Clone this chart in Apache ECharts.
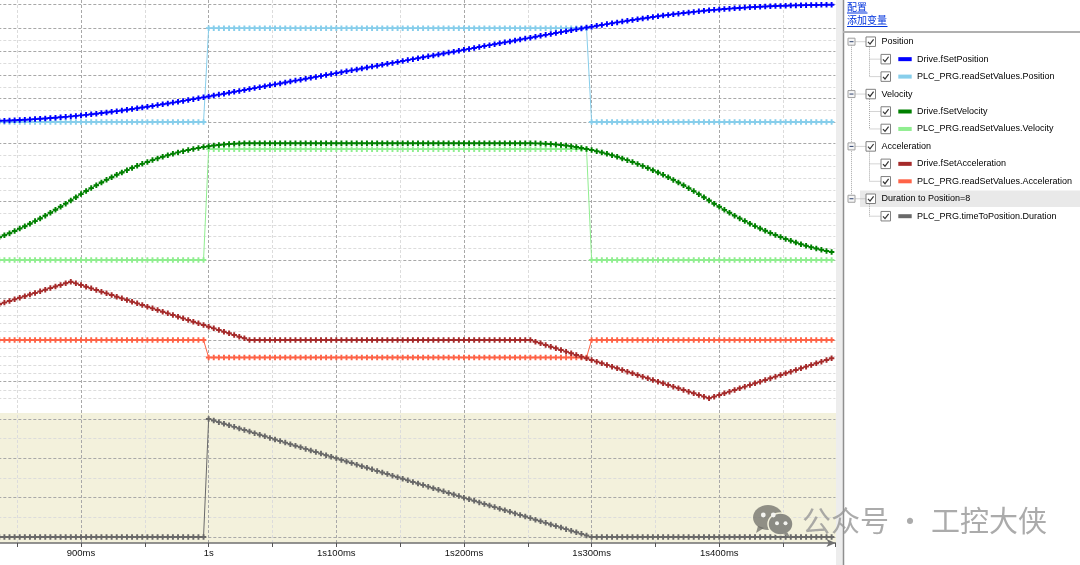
<!DOCTYPE html>
<html><head><meta charset="utf-8">
<script src="https://cdn.jsdelivr.net/npm/echarts@6/dist/echarts.min.js"></script>
<style>html,body{margin:0;padding:0;background:#fff;}#chart{width:1080px;height:565px;}</style>
</head><body><div id="chart"></div>
<script>
// ---------------- DATA ----------------
const sampleTimesMs = [
836,840,844,848,852,856,860,864,868,872,876,880,884,888,892,896,900,904,908,912,
916,920,924,928,932,936,940,944,948,952,956,960,964,968,972,976,980,984,988,992,
996,1000,1004,1008,1012,1016,1020,1024,1028,1032,1036,1040,1044,1048,1052,1056,1060,1064,1068,1072,
1076,1080,1084,1088,1092,1096,1100,1104,1108,1112,1116,1120,1124,1128,1132,1136,1140,1144,1148,1152,
1156,1160,1164,1168,1172,1176,1180,1184,1188,1192,1196,1200,1204,1208,1212,1216,1220,1224,1228,1232,
1236,1240,1244,1248,1252,1256,1260,1264,1268,1272,1276,1280,1284,1288,1292,1296,1300,1304,1308,1312,
1316,1320,1324,1328,1332,1336,1340,1344,1348,1352,1356,1360,1364,1368,1372,1376,1380,1384,1388,1392,
1396,1400,1404,1408,1412,1416,1420,1424,1428,1432,1436,1440,1444,1448,1452,1456,1460,1464,1468,1472,
1476,1480,1484,1488];

const driveSetPosition = [
0.50,0.58,0.67,0.76,0.87,0.98,1.10,1.23,1.36,1.51,1.67,1.83,2.01,2.20,2.39,
2.60,2.82,3.05,3.29,3.54,3.80,4.07,4.35,4.63,4.93,5.23,5.54,5.86,6.18,6.51,
6.85,7.20,7.55,7.90,8.26,8.62,8.99,9.37,9.74,10.12,10.51,10.89,11.28,11.68,12.07,
12.46,12.86,13.26,13.65,14.05,
14.45,14.85,15.25,15.65,16.04,16.44,16.84,17.24,17.64,18.03,
18.43,18.83,19.23,19.63,20.02,20.42,20.82,21.22,21.62,22.01,
22.41,22.81,23.21,23.61,24.00,24.40,24.80,25.20,25.60,25.99,
26.39,26.79,27.19,27.59,27.98,28.38,28.78,29.18,29.58,29.97,
30.37,30.77,31.17,31.57,31.96,32.36,32.76,33.16,33.56,33.95,
34.35,34.75,35.15,35.55,35.94,
36.34,36.74,37.14,37.53,37.93,38.32,38.71,39.10,39.49,39.87,
40.25,40.63,41.00,41.37,41.73,42.09,42.45,42.80,43.14,43.48,
43.81,44.13,44.45,44.76,45.06,45.36,45.64,45.92,46.19,46.45,
46.70,46.94,47.17,47.39,47.60,
47.80,47.98,48.16,48.32,48.48,48.63,48.76,48.89,49.01,49.12,
49.23,49.32,49.41,49.49,49.57,49.64,49.70,49.76,49.81,49.85,
49.90,49.93,49.97,49.99];

const plcPosition = [
0,0,0,0,0,0,0,0,0,0, 0,0,0,0,0,0,0,0,0,0, 0,0,0,0,0,0,0,0,0,0, 0,0,0,0,0,0,0,0,0,0, 0,
40,40,40,40,40,40,40,40,40,40, 40,40,40,40,40,40,40,40,40,40, 40,40,40,40,40,40,40,40,40,40,
40,40,40,40,40,40,40,40,40,40, 40,40,40,40,40,40,40,40,40,40, 40,40,40,40,40,40,40,40,40,40,
40,40,40,40,40,40,40,40,40,40, 40,40,40,40,40,
0,0,0,0,0,0,0,0,0,0, 0,0,0,0,0,0,0,0,0,0, 0,0,0,0,0,0,0,0,0,0, 0,0,0,0,0,0,0,0,0,0, 0,0,0,0,0,0,0,0];

const driveSetVelocity = [
19.40,21.16,22.99,24.91,26.90,28.96,31.11,33.33,35.63,38.00,40.46,42.99,45.59,48.28,51.04,
53.80,56.48,59.08,61.60,64.04,66.40,68.68,70.88,73.00,75.04,
77.00,78.88,80.68,82.40,84.04,85.60,87.08,88.48,89.80,91.04,
92.20,93.28,94.28,95.20,96.04,96.80,97.48,98.08,98.60,99.04,
99.40,99.68,99.88,100,100,
100,100,100,100,100,100,100,100,100,100, 100,100,100,100,100,100,100,100,100,100,
100,100,100,100,100,100,100,100,100,100, 100,100,100,100,100,100,100,100,100,100,
100,100,100,100,100,100,100,100,100,100, 100,100,100,100,100,
99.96,99.84,99.64,99.36,99.00,98.56,98.04,97.44,96.76,96.00,
95.16,94.24,93.24,92.16,91.00,89.76,88.44,87.04,85.56,84.00,
82.36,80.64,78.84,76.96,75.00,72.96,70.84,68.64,66.36,64.00,
61.56,59.04,56.44,53.76,51.00,
48.24,45.56,42.96,40.44,38.00,35.64,33.36,31.16,29.04,27.00,
25.04,23.16,21.36,19.64,18.00,16.44,14.96,13.56,12.24,11.00,
9.84,8.76,7.76,6.84];

const plcVelocity = [
0,0,0,0,0,0,0,0,0,0, 0,0,0,0,0,0,0,0,0,0, 0,0,0,0,0,0,0,0,0,0, 0,0,0,0,0,0,0,0,0,0, 0,
95,95,95,95,95,95,95,95,95,95, 95,95,95,95,95,95,95,95,95,95, 95,95,95,95,95,95,95,95,95,95,
95,95,95,95,95,95,95,95,95,95, 95,95,95,95,95,95,95,95,95,95, 95,95,95,95,95,95,95,95,95,95,
95,95,95,95,95,95,95,95,95,95, 95,95,95,95,95,
0,0,0,0,0,0,0,0,0,0, 0,0,0,0,0,0,0,0,0,0, 0,0,0,0,0,0,0,0,0,0, 0,0,0,0,0,0,0,0,0,0, 0,0,0,0,0,0,0,0];

const driveSetAcceleration = [
4.30,4.49,4.69,4.88,5.07,5.26,5.46,5.65,5.84,6.04,6.23,6.42,6.61,6.81,7.00,
6.8,6.6,6.4,6.2,6.0,5.8,5.6,5.4,5.2,5.0,4.8,4.6,4.4,4.2,4.0,3.8,3.6,3.4,3.2,3.0,
2.8,2.6,2.4,2.2,2.0,1.8,1.6,1.4,1.2,1.0,0.8,0.6,0.4,0.2,0,
0,0,0,0,0,0,0,0,0,0, 0,0,0,0,0,0,0,0,0,0, 0,0,0,0,0,0,0,0,0,0,
0,0,0,0,0,0,0,0,0,0, 0,0,0,0,0,0,0,0,0,0, 0,0,0,0,0,
-0.2,-0.4,-0.6,-0.8,-1.0,-1.2,-1.4,-1.6,-1.8,-2.0,
-2.2,-2.4,-2.6,-2.8,-3.0,-3.2,-3.4,-3.6,-3.8,-4.0,
-4.2,-4.4,-4.6,-4.8,-5.0,-5.2,-5.4,-5.6,-5.8,-6.0,
-6.2,-6.4,-6.6,-6.8,-7.0,
-6.8,-6.6,-6.4,-6.2,-6.0,-5.8,-5.6,-5.4,-5.2,-5.0,
-4.8,-4.6,-4.4,-4.2,-4.0,-3.8,-3.6,-3.4,-3.2,-3.0,
-2.8,-2.6,-2.4,-2.2];

const plcAcceleration = [
0,0,0,0,0,0,0,0,0,0, 0,0,0,0,0,0,0,0,0,0, 0,0,0,0,0,0,0,0,0,0, 0,0,0,0,0,0,0,0,0,0, 0,
-2.1,-2.1,-2.1,-2.1,-2.1,-2.1,-2.1,-2.1,-2.1,-2.1, -2.1,-2.1,-2.1,-2.1,-2.1,-2.1,-2.1,-2.1,-2.1,-2.1,
-2.1,-2.1,-2.1,-2.1,-2.1,-2.1,-2.1,-2.1,-2.1,-2.1, -2.1,-2.1,-2.1,-2.1,-2.1,-2.1,-2.1,-2.1,-2.1,-2.1,
-2.1,-2.1,-2.1,-2.1,-2.1,-2.1,-2.1,-2.1,-2.1,-2.1, -2.1,-2.1,-2.1,-2.1,-2.1,-2.1,-2.1,-2.1,-2.1,-2.1,
-2.1,-2.1,-2.1,-2.1,-2.1,-2.1,-2.1,-2.1,-2.1,-2.1, -2.1,-2.1,-2.1,-2.1,-2.1,
0,0,0,0,0,0,0,0,0,0, 0,0,0,0,0,0,0,0,0,0, 0,0,0,0,0,0,0,0,0,0, 0,0,0,0,0,0,0,0,0,0, 0,0,0,0,0,0,0,0];

const timeToPositionDuration = [
0,0,0,0,0,0,0,0,0,0, 0,0,0,0,0,0,0,0,0,0, 0,0,0,0,0,0,0,0,0,0, 0,0,0,0,0,0,0,0,0,0, 0,
300,296,292,288,284,280,276,272,268,264,
260,256,252,248,244,240,236,232,228,224,
220,216,212,208,204,200,196,192,188,184,
180,176,172,168,164,160,156,152,148,144,
140,136,132,128,124,120,116,112,108,104,
100,96,92,88,84,80,76,72,68,64,
60,56,52,48,44,40,36,32,28,24,
20,16,12,8,4,
0,0,0,0,0,0,0,0,0,0, 0,0,0,0,0,0,0,0,0,0, 0,0,0,0,0,0,0,0,0,0, 0,0,0,0,0,0,0,0,0,0, 0,0,0,0,0,0,0,0];

const timeTickValues = [900, 1000, 1100, 1200, 1300, 1400];
const timeTickLabels = ['900ms', '1s', '1s100ms', '1s200ms', '1s300ms', '1s400ms'];

const groupNames = ['Position', 'Velocity', 'Acceleration', 'Duration to Position=8'];
const seriesNames = ['Drive.fSetPosition', 'PLC_PRG.readSetValues.Position',
  'Drive.fSetVelocity', 'PLC_PRG.readSetValues.Velocity',
  'Drive.fSetAcceleration', 'PLC_PRG.readSetValues.Acceleration',
  'PLC_PRG.timeToPosition.Duration'];
const seriesValues = [driveSetPosition, plcPosition, driveSetVelocity, plcVelocity,
  driveSetAcceleration, plcAcceleration, timeToPositionDuration];
const seriesGroup = [0, 0, 1, 1, 2, 2, 3];
const seriesColors = ['#0000ff', '#87ceeb', '#008000', '#90ee90', '#a52a2a', '#ff6347', '#696969'];

// ---------------- LAYOUT / STYLE ----------------
const D = '#a8a8a8', L = '#dcdcdc', T = 'rgba(0,0,0,0)';
const plotLeft = -46.66, plotWidth = 882.1;
const xMin = 800, xMax = 1491;
const panels = [
  {top: 4.7, height: 117.3, min: 0, max: 50, interval: 5, colors: [D,L,D,L,D,L,D,L,D,T,D]},
  {top: 143.3, height: 116.7, min: 0, max: 100, interval: 10, colors: [D,L,L,L,L,D,L,L,L,L,D]},
  {top: 281.7, height: 116.6, min: -7, max: 7, interval: 1, colors: [L,L,D,L,L,L,L,D,L,L,L,L,D,L,L]},
  {top: 419, height: 118, min: 0, max: 300, interval: 50, colors: [D,L,D,L,D,L,D]}
];
const plus = 'path://M2.6,0H5.4V2.6H8V5.4H5.4V8H2.6V5.4H0V2.6H2.6Z';

const grids = [{left: plotLeft, width: plotWidth, top: 0, height: 543, containLabel: false, outerBoundsMode: 'none'}];
const xAxes = [{
  gridIndex: 0, type: 'value', min: xMin, max: xMax, interval: 50,
  axisLine: {show: true, onZero: false, symbol: ['none', 'arrow'], symbolSize: [6, 9],
    lineStyle: {color: '#707070', width: 1.5}},
  axisTick: {show: true, length: 4, lineStyle: {color: '#555'}},
  axisLabel: {margin: 5, fontSize: 9.5, color: '#111', fontFamily: 'Liberation Sans',
    formatter: v => { const k = timeTickValues.indexOf(Math.round(v)); return k >= 0 ? timeTickLabels[k] : ''; }},
  splitLine: {show: true, lineStyle: {color: [D,L,D,L,D,L,D,L,D,L,D,L,D,L,T], type: [3, 2], width: 1}}
}];
const yAxes = [{gridIndex: 0, type: 'value', min: 0, max: 1, show: false}];
panels.forEach((p, i) => {
  grids.push({left: plotLeft, width: plotWidth, top: p.top, height: p.height, containLabel: false, outerBoundsMode: 'none'});
  xAxes.push({gridIndex: i + 1, type: 'value', min: xMin, max: xMax, interval: 50, show: false});
  yAxes.push({gridIndex: i + 1, type: 'value', min: p.min, max: p.max, interval: p.interval,
    axisLine: {show: false}, axisTick: {show: false}, axisLabel: {show: false},
    splitLine: {show: true, lineStyle: {color: p.colors, type: [3, 2], width: 1}}});
});

const drawOrder = [1, 0, 3, 2, 5, 4, 6];
const series = drawOrder.map(k => ({
  name: seriesNames[k], type: 'line',
  xAxisIndex: seriesGroup[k] + 1, yAxisIndex: seriesGroup[k] + 1,
  data: sampleTimesMs.map((t, i) => [t, seriesValues[k][i]]),
  symbol: plus, symbolSize: 5.5, showSymbol: true, clip: false,
  itemStyle: {color: seriesColors[k]},
  lineStyle: {color: seriesColors[k], width: 1},
  emphasis: {disabled: true}, silent: true, animation: false
}));

// ---------------- RIGHT PANEL (tree legend) & decorations ----------------
const g = [];
g.push({type: 'rect', z: -10, shape: {x: 0, y: 413, width: 836, height: 130}, style: {fill: '#f3f1dc'}});
g.push({type: 'rect', z: 50, shape: {x: 836, y: 0, width: 7, height: 565}, style: {fill: '#ededed'}});
g.push({type: 'line', z: 51, shape: {x1: 843.5, y1: 0, x2: 843.5, y2: 565}, style: {stroke: '#8f8f8f', lineWidth: 1.5}});
g.push({type: 'line', z: 51, shape: {x1: 843, y1: 32, x2: 1080, y2: 32}, style: {stroke: '#b0b0b0', lineWidth: 2}});
const linkFont = '10px "Noto Sans CJK SC"';
[['配置', 7, 20.5], ['添加变量', 20.5, 40.5]].forEach(([txt, cy, w]) => {
  g.push({type: 'text', z: 52, x: 847, y: cy, style: {text: txt, font: linkFont, fill: '#0033dd', textVerticalAlign: 'middle', verticalAlign: 'middle'}});
  g.push({type: 'line', z: 52, shape: {x1: 847, y1: cy + 6, x2: 847 + w, y2: cy + 6}, style: {stroke: '#0033dd', lineWidth: 1}});
});
const rowH = 17.45, row0 = 41.7;
const rowY = r => row0 + rowH * r;
const dotted = {stroke: '#a8a8a8', lineWidth: 1, lineDash: [1, 1]};
const textFont = '9px "Liberation Sans"';
function checkbox(x0, cy) {
  g.push({type: 'rect', z: 53, shape: {x: x0, y: cy - 4.75, width: 9.5, height: 9.5}, style: {fill: '#fff', stroke: '#808080', lineWidth: 1}});
  g.push({type: 'polyline', z: 54, shape: {points: [[x0 + 2, cy + 0.2], [x0 + 4, cy + 2.4], [x0 + 7.6, cy - 2.4]]}, style: {stroke: '#333', lineWidth: 1.2, fill: null}});
}
let r = 0;
const groupRows = [];
groupNames.forEach((gn, gi) => {
  const gy = rowY(r); groupRows.push(gy);
  if (gi === groupNames.length - 1) {
    g.push({type: 'rect', z: 52, shape: {x: 860, y: gy - 8.3, width: 220, height: 16.6}, style: {fill: '#e9e9e9'}});
  }
  g.push({type: 'line', z: 52, shape: {x1: 855.5, y1: gy, x2: 866, y2: gy}, style: dotted});
  g.push({type: 'rect', z: 53, shape: {x: 848, y: gy - 3.5, width: 7, height: 7}, style: {fill: '#f6f6f6', stroke: '#a0a0a0', lineWidth: 1}});
  g.push({type: 'line', z: 54, shape: {x1: 849.5, y1: gy, x2: 853.5, y2: gy}, style: {stroke: '#2b3f6b', lineWidth: 1}});
  checkbox(866, gy);
  g.push({type: 'text', z: 53, x: 881.5, y: gy, style: {text: gn, font: textFont, fill: '#000', textVerticalAlign: 'middle', verticalAlign: 'middle'}});
  r++;
  const kids = seriesNames.map((n, k) => k).filter(k => seriesGroup[k] === gi);
  let lastY = gy;
  kids.forEach(k => {
    const cy = rowY(r); lastY = cy;
    g.push({type: 'line', z: 52, shape: {x1: 869.5, y1: cy, x2: 881, y2: cy}, style: dotted});
    checkbox(881, cy);
    g.push({type: 'rect', z: 53, shape: {x: 898.3, y: cy - 2, width: 13.4, height: 4}, style: {fill: seriesColors[k]}});
    g.push({type: 'text', z: 53, x: 917, y: cy, style: {text: seriesNames[k], font: textFont, fill: '#000', textVerticalAlign: 'middle', verticalAlign: 'middle'}});
    r++;
  });
  g.push({type: 'line', z: 52, shape: {x1: 869.5, y1: gy + 5, x2: 869.5, y2: lastY}, style: dotted});
});
g.push({type: 'line', z: 51.5, shape: {x1: 851.5, y1: groupRows[0] + 3.5, x2: 851.5, y2: groupRows[groupRows.length - 1] - 3.5}, style: dotted});

// watermark
const wm = 'rgba(105,105,100,0.72)';
g.push({type: 'ellipse', z: 60, shape: {cx: 768, cy: 517.5, rx: 15, ry: 12.5}, style: {fill: wm}});
g.push({type: 'polygon', z: 60, shape: {points: [[758, 526], [756, 533], [764, 528]]}, style: {fill: wm}});
g.push({type: 'ellipse', z: 61, shape: {cx: 780.5, cy: 524, rx: 12.5, ry: 11}, style: {fill: '#8b8b84', stroke: '#f3f1dc', lineWidth: 1.5}});
g.push({type: 'polygon', z: 61, shape: {points: [[787, 532], [790, 537], [783, 534]]}, style: {fill: '#8b8b84'}});
[[763.3, 515, 2.4], [773.3, 515, 2.4], [777, 523.3, 2], [785.5, 523.3, 2]].forEach(([cx, cy, rr]) => {
  g.push({type: 'circle', z: 62, shape: {cx: cx, cy: cy, r: rr}, style: {fill: '#f4f4f0'}});
});
g.push({type: 'text', z: 62, x: 802, y: 521, style: {text: '公众号 · 工控大侠', font: '29px "Noto Sans CJK SC"', fill: 'rgba(150,150,150,0.8)', textVerticalAlign: 'middle', verticalAlign: 'middle'}});

const chart = echarts.init(document.getElementById('chart'), null, {renderer: 'canvas'});
chart.setOption({
  backgroundColor: '#ffffff',
  animation: false,
  grid: grids, xAxis: xAxes, yAxis: yAxes,
  series: series,
  graphic: {elements: g}
});
</script></body></html>
